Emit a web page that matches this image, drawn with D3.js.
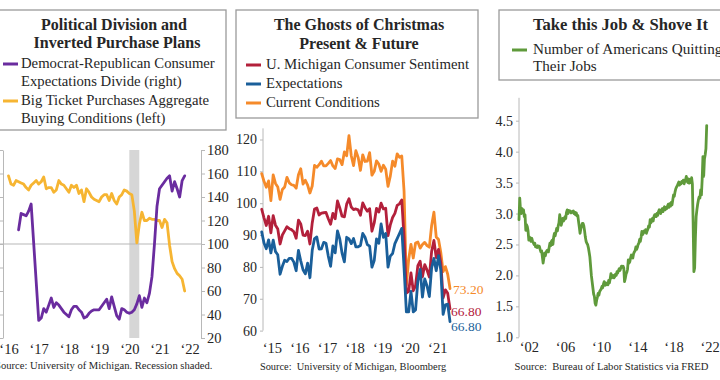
<!DOCTYPE html>
<html><head><meta charset="utf-8">
<script src="https://cdn.jsdelivr.net/npm/d3@7"></script>
<style>
html,body{margin:0;padding:0;background:#fff;}
svg{display:block;}
</style></head><body>
<svg id="chart" width="720" height="380"></svg>
<script>
// ---------------- DATA ----------------
// Panel 1
const p1Title = ["Political Division and", "Inverted Purchase Plans"];
const p1LegendDemRep = ["Democrat-Republican Consumer", "Expectations Divide (right)"];
const p1LegendBigTicket = ["Big Ticket Purchases Aggregate", "Buying Conditions (left)"];
const p1Source = "Source: University of Michigan. Recession shaded.";
const p1YearTicks = [2016, 2017, 2018, 2019, 2020, 2021, 2022];
const p1ValueTicks = [20, 40, 60, 80, 100, 120, 140, 160, 180];
const recession = [2020.0, 2020.33];
const bigTicketStart = 2016; // Jan 2016, monthly
const bigTicket = [
  158,151,150,154,153,152,151,148,146,150,152,154,
  151,153,157,147,148,148,144,146,154,151,150,147,
  144,150,148,150,143,146,136,147,144,140,138,137,
  136,140,142,142,137,143,137,134,140,142,146,145,
  143,142,128,101,117,127,120,120,122,121,121,120,
  120,114,121,118,99,85,79,75,73,70,60
];
const demRepStart = 2016 + 4 / 12; // May 2016, monthly
const demRep = [
  112,126,125,124,128,134,101,68,
  35,37,45,42,48,54,46,50,48,45,42,40,
  38,44,47,47,44,42,37,38,41,43,44,44,
  44,47,50,53,45,55,47,39,36,45,44,42,
  41,42,44,49,56,46,54,50,58,72,100,132,
  147,150,153,156,158,145,153,147,140,154,158
];

// Panel 2
const p2Title = ["The Ghosts of Christmas", "Present & Future"];
const p2SeriesNames = ["U. Michigan Consumer Sentiment", "Expectations", "Current Conditions"];
const p2Source = "Source:  University of Michigan, Bloomberg";
const p2YearTicks = [2015, 2016, 2017, 2018, 2019, 2020, 2021];
const p2ValueTicks = [60, 70, 80, 90, 100, 110, 120];
const p2Start = 2015; // Jan 2015, monthly
const sentiment = [
  98.1,95.4,93.0,95.9,90.7,96.1,93.1,91.9,87.2,90.0,91.3,92.6,
  92.0,91.7,91.0,89.0,94.7,93.5,90.0,89.8,91.2,87.2,93.8,98.2,
  98.5,96.3,96.9,97.0,97.1,95.1,93.4,96.8,95.1,100.7,98.5,95.9,
  95.7,99.7,101.4,98.8,98.0,98.2,97.9,96.2,100.1,98.6,97.5,98.3,
  91.2,93.8,98.4,97.2,100.0,98.2,98.4,89.8,93.2,95.5,96.8,99.3,
  99.8,101.0,89.1,71.8,72.3,78.1,72.5,74.1,80.4,81.8,76.9,80.7,
  79.0,76.8,84.9,88.3,82.9,85.5,81.2,70.3,72.8,71.7,66.8
];
const expectations = [
  91.0,87.5,85.7,88.5,84.4,88.4,84.8,83.8,77.7,80.2,82.1,81.7,
  82.7,82.7,81.5,78.8,85.2,81.9,79.1,77.8,81.2,76.6,85.2,88.9,
  89.4,85.6,85.7,87.7,87.4,83.4,80.2,86.6,84.4,91.3,88.8,84.3,
  81.6,89.3,88.8,87.3,88.9,86.3,86.3,86.7,90.5,89.3,87.0,86.5,
  79.9,82.0,88.8,87.4,93.5,89.3,90.5,79.9,83.4,84.2,87.3,88.9,
  90.5,92.1,79.7,65.9,65.9,72.3,65.9,66.5,75.6,79.2,70.5,76.2,
  74.0,70.7,79.7,82.7,78.8,83.5,79.0,65.1,68.1,68.3,62.8
];
const currentConditions = [
  109.3,106.9,105.0,107.0,100.8,108.9,106.2,105.1,101.2,104.3,105.1,108.1,
  106.4,105.8,105.6,104.7,108.9,110.8,106.0,107.2,105.7,103.2,105.4,111.9,
  111.3,112.1,113.2,111.7,111.7,112.5,113.4,111.7,110.9,113.9,113.7,112.1,
  116.1,114.9,121.2,114.9,111.8,116.5,114.4,110.3,115.2,113.1,113.2,115.9,
  108.8,110.0,113.3,112.3,110.0,111.9,110.7,105.3,108.5,113.2,111.6,115.5,
  114.4,114.8,103.7,74.3,82.3,87.1,82.8,87.5,87.8,85.9,87.0,87.7,
  86.7,86.2,93.0,97.2,89.4,88.6,84.5,78.5,80.1,77.7,73.2
];
const p2EndLabels = ["73.20", "66.80", "66.80"]; // current, sentiment, expectations

// Panel 3
const p3Title = "Take this Job & Shove It";
const p3Legend = ["Number of Americans Quitting", "Their Jobs"];
const p3Source = "Source:  Bureau of Labor Statistics via FRED";
const p3YearTicks = [2002, 2006, 2010, 2014, 2018, 2022];
const p3ValueTicks = [1.0, 1.5, 2.0, 2.5, 3.0, 3.5, 4.0, 4.5];
const quitsStart = 2000 + 11 / 12; // Dec 2000, monthly (millions)
const quits = [
  2.90,
  3.25,3.05,3.00,3.08,3.02,3.06,2.95,2.98,2.73,2.82,2.79,2.72,
  2.57,2.62,2.58,2.55,2.60,2.55,2.53,2.50,2.52,2.46,2.47,2.45,
  2.48,2.46,2.47,2.42,2.38,2.40,2.30,2.20,2.28,2.36,2.32,2.38,
  2.40,2.41,2.38,2.45,2.52,2.48,2.55,2.57,2.50,2.62,2.68,2.64,
  2.70,2.76,2.72,2.80,2.85,2.98,2.90,2.81,2.86,2.92,2.88,2.90,
  2.95,2.92,3.02,3.06,3.00,3.05,3.03,3.04,3.01,3.03,3.02,3.04,
  3.00,3.02,2.98,3.01,2.96,2.97,2.87,2.78,2.68,2.75,2.80,2.84,
  2.84,2.80,2.72,2.62,2.55,2.52,2.50,2.45,2.38,2.30,2.15,2.00,
  1.90,1.80,1.70,1.66,1.55,1.52,1.60,1.65,1.71,1.68,1.74,1.76,
  1.78,1.82,1.80,1.86,1.90,1.84,1.88,1.85,1.87,1.85,1.92,1.88,
  1.95,2.03,1.96,1.98,2.00,1.96,1.98,2.02,2.00,2.06,2.04,2.08,
  2.11,2.08,2.12,2.15,2.13,2.15,2.12,1.90,1.95,2.02,2.05,2.10,
  2.25,2.20,2.22,2.28,2.33,2.30,2.28,2.35,2.38,2.40,2.46,2.42,
  2.45,2.50,2.52,2.58,2.55,2.62,2.71,2.66,2.68,2.72,2.70,2.74,
  2.68,2.72,2.75,2.80,2.78,2.90,2.85,2.88,2.92,2.88,2.95,2.98,
  2.98,2.95,3.00,2.97,3.03,3.06,3.02,3.00,3.05,3.08,3.03,3.08,
  3.11,3.06,3.10,3.08,3.12,3.15,3.10,3.16,3.12,3.18,3.14,3.22,
  3.30,3.28,3.35,3.40,3.43,3.45,3.48,3.51,3.46,3.50,3.48,3.52,
  3.50,3.54,3.48,3.52,3.55,3.60,3.52,3.50,3.56,3.49,3.55,3.50,
  3.58,3.48,2.85,2.06,2.12,2.60,2.95,3.06,3.15,3.22,3.27,3.25,
  3.38,3.30,3.55,3.92,3.60,3.88,3.95,4.05,4.42
];

// ---------------- STYLE ----------------
const FONT = "'Liberation Serif','Times New Roman',serif";
const TXT = "#262626";
const AX = "#b8b8b8";
const C = {
  purple: "#6a2c9f", yellow: "#f6b532",
  red: "#b3203b", blue: "#1a5f9a", orange: "#f58a2a",
  green: "#5f9a3b", rec: "#d6d6d6", box: "#9a9a9a"
};

const svg = d3.select("#chart").attr("font-family", FONT);
const monthly = (start, arr) => arr.map((v, i) => ({ t: start + i / 12, v }));
const yrFmt = y => "\u2018" + String(y).slice(2);

function styleAxis(g, fs) {
  g.select(".domain").attr("stroke", AX).attr("stroke-width", 1);
  g.selectAll(".tick line").attr("stroke", AX);
  g.selectAll(".tick text").attr("fill", TXT).attr("font-size", fs).attr("font-family", FONT);
}
function box(x, y, w, h) {
  svg.append("rect").attr("x", x).attr("y", y).attr("width", w).attr("height", h)
    .attr("fill", "none").attr("stroke", C.box).attr("stroke-width", 1.3);
}
function text(x, y, s, opt = {}) {
  return svg.append("text").attr("x", x).attr("y", y).text(s)
    .attr("fill", opt.fill || TXT).attr("font-size", opt.fs || 15)
    .attr("font-weight", opt.bold ? "bold" : "normal")
    .attr("text-anchor", opt.anchor || "start")
    .style("white-space", "pre");
}
function swatch(x1, x2, y, color) {
  svg.append("line").attr("x1", x1).attr("x2", x2).attr("y1", y).attr("y2", y)
    .attr("stroke", color).attr("stroke-width", 3);
}
function drawLine(data, xs, ys, color, w = 2.8) {
  svg.append("path").datum(data)
    .attr("fill", "none").attr("stroke", color).attr("stroke-width", w)
    .attr("stroke-linejoin", "round").attr("stroke-linecap", "round")
    .attr("d", d3.line().x(d => xs(d.t)).y(d => ys(d.v)));
}

// ---------------- PANEL 1 ----------------
{
  box(-10, 10, 236, 120);
  text(114, 30, p1Title[0], { bold: true, anchor: "middle", fs: 16 });
  text(117, 48, p1Title[1], { bold: true, anchor: "middle", fs: 16 });
  swatch(3, 18, 64, C.purple);
  text(21, 68, p1LegendDemRep[0], { fs: 14.7 });
  text(21, 86, p1LegendDemRep[1], { fs: 14.7 });
  swatch(3, 18, 101, C.yellow);
  text(21, 105, p1LegendBigTicket[0], { fs: 14.7 });
  text(21, 123, p1LegendBigTicket[1], { fs: 14.7 });

  const x = d3.scaleLinear().domain([2016, 2022]).range([8.5, 189.7]);
  const y = d3.scaleLinear().domain([20, 180]).range([338, 150]);
  const xL = 3, xR = 201;

  svg.append("rect").attr("x", x(recession[0])).attr("y", y(180))
    .attr("width", x(recession[1]) - x(recession[0])).attr("height", y(20) - y(180))
    .attr("fill", C.rec);
  svg.append("line").attr("x1", 0).attr("x2", xR).attr("y1", y(100)).attr("y2", y(100))
    .attr("stroke", AX).attr("stroke-width", 1.2);

  const gL = svg.append("g").attr("transform", `translate(${xL},0)`)
    .call(d3.axisLeft(y).tickValues(p1ValueTicks).tickSize(4).tickPadding(3).tickSizeOuter(0));
  styleAxis(gL, 14);
  const gR = svg.append("g").attr("transform", `translate(${xR},0)`)
    .call(d3.axisRight(y).tickValues(p1ValueTicks).tickSize(4).tickPadding(2).tickSizeOuter(0));
  styleAxis(gR, 14.5);
  const gB = svg.append("g").attr("transform", `translate(0,${y(20)})`)
    .call(d3.axisBottom(x).tickValues(p1YearTicks).tickFormat(yrFmt).tickSize(0).tickPadding(6));
  styleAxis(gB, 14.5);
  gB.select(".domain").remove();

  drawLine(monthly(bigTicketStart, bigTicket), x, y, C.yellow);
  drawLine(monthly(demRepStart, demRep), x, y, C.purple);
  text(-5, 369, p1Source, { fs: 10.6 });
}

// ---------------- PANEL 2 ----------------
{
  box(236, 10, 242, 108);
  text(359, 30, p2Title[0], { bold: true, anchor: "middle", fs: 16 });
  text(359, 49, p2Title[1], { bold: true, anchor: "middle", fs: 16 });
  const cols = [C.red, C.blue, C.orange];
  p2SeriesNames.forEach((n, i) => {
    swatch(246, 261, 65 + i * 19, cols[i]);
    text(266, 69 + i * 19, n, { fs: 14.8 });
  });

  const x = d3.scaleLinear().domain([2015, 2015 + 82 / 12]).range([261.7, 450]);
  const y = d3.scaleLinear().domain([60, 120]).range([330.6, 139.5]);
  const gY = svg.append("g").attr("transform", "translate(263,0)")
    .call(d3.axisLeft(y).tickValues(p2ValueTicks).tickSize(3).tickPadding(3).tickSizeOuter(0));
  styleAxis(gY, 14);
  gY.select(".domain").attr("d", `M0,${y(123.5)}V${y(60)}`);
  const gX = svg.append("g").attr("transform", `translate(0,${y(60) + 6})`)
    .call(d3.axisBottom(x).tickValues(p2YearTicks.map(v => v + 0.37)).tickFormat(v => yrFmt(Math.floor(v)))
      .tickSize(0).tickPadding(6));
  styleAxis(gX, 14.5);
  gX.select(".domain").remove();

  drawLine(monthly(p2Start, currentConditions), x, y, C.orange);
  drawLine(monthly(p2Start, sentiment), x, y, C.red);
  drawLine(monthly(p2Start, expectations), x, y, C.blue);

  const endT = p2Start + 82 / 12;
  text(x(endT) + 3, y(73.2) + 5, p2EndLabels[0], { fill: C.orange, fs: 13.5 });
  text(x(endT) + 1, y(66.8) + 7, p2EndLabels[1], { fill: C.red, fs: 13.5 });
  text(x(endT) + 1, y(62.8) + 9, p2EndLabels[2], { fill: C.blue, fs: 13.5 });
  text(353, 370, p2Source, { fs: 10.4, anchor: "middle" });
}

// ---------------- PANEL 3 ----------------
{
  box(499, 10, 240, 70);
  text(533, 30, p3Title, { bold: true, fs: 16.6 });
  swatch(512, 527, 50, C.green);
  text(533, 54, p3Legend[0], { fs: 15.2 });
  text(533, 71, p3Legend[1], { fs: 15.2 });

  const x = d3.scaleLinear().domain([2000 + 11 / 12, 2021 + 8 / 12]).range([519, 706.7]);
  const y = d3.scaleLinear().domain([1.0, 4.5]).range([337.3, 120.7]);
  const gY = svg.append("g").attr("transform", "translate(519,0)")
    .call(d3.axisLeft(y).tickValues(p3ValueTicks).tickFormat(d3.format(".1f")).tickSize(3).tickPadding(3).tickSizeOuter(0));
  styleAxis(gY, 14);
  gY.select(".domain").attr("d", `M0,${y(4.87)}V${y(1.0)}`);
  const gX = svg.append("g").attr("transform", `translate(0,${y(1.0) - 2})`)
    .call(d3.axisBottom(x).tickValues(p3YearTicks).tickFormat(yrFmt).tickSize(0).tickPadding(6));
  styleAxis(gX, 14.5);
  gX.select(".domain").remove();

  drawLine(monthly(quitsStart, quits), x, y, C.green, 2.8);
  text(611.5, 370, p3Source, { fs: 10.6, anchor: "middle" });
}
</script>
</body></html>
